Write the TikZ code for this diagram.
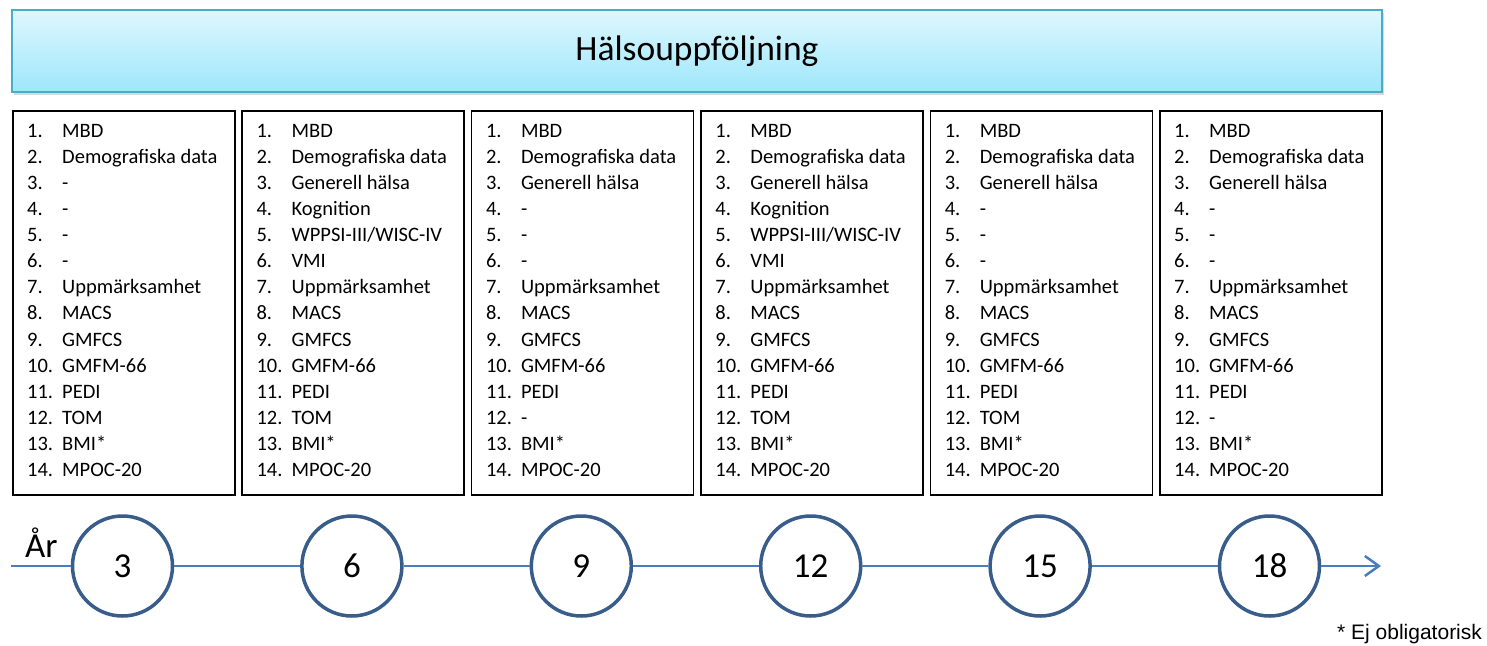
\documentclass[tikz,border=0pt]{standalone}
\usepackage{fontspec}
\setmainfont{Carlito}
\newfontfamily\arialfont{Liberation Sans}
\usetikzlibrary{arrows.meta, shadows, positioning}
\definecolor{headline}{RGB}{75,172,198}
\definecolor{headtop}{RGB}{222,247,254}
\definecolor{headbot}{RGB}{158,231,251}
\definecolor{axisblue}{RGB}{74,126,187}
\definecolor{ringblue}{RGB}{56,93,138}
\def\pitch{229.4}
\def\listA{MBD,Demografiska data,-,-,-,-,Uppmärksamhet,MACS,GMFCS,GMFM-66,PEDI,TOM,BMI*,MPOC-20}
\def\listB{MBD,Demografiska data,Generell hälsa,Kognition,WPPSI-III/WISC-IV,VMI,Uppmärksamhet,MACS,GMFCS,GMFM-66,PEDI,TOM,BMI*,MPOC-20}
\def\listC{MBD,Demografiska data,Generell hälsa,-,-,-,Uppmärksamhet,MACS,GMFCS,GMFM-66,PEDI,-,BMI*,MPOC-20}
\def\listD{MBD,Demografiska data,Generell hälsa,Kognition,WPPSI-III/WISC-IV,VMI,Uppmärksamhet,MACS,GMFCS,GMFM-66,PEDI,TOM,BMI*,MPOC-20}
\def\listE{MBD,Demografiska data,Generell hälsa,-,-,-,Uppmärksamhet,MACS,GMFCS,GMFM-66,PEDI,TOM,BMI*,MPOC-20}
\def\listF{MBD,Demografiska data,Generell hälsa,-,-,-,Uppmärksamhet,MACS,GMFCS,GMFM-66,PEDI,-,BMI*,MPOC-20}
\tikzstyle{header} = [rectangle, draw=headline, line width=2.5pt, top color=headtop, bottom color=headbot,
                      minimum width=1370pt, minimum height=82pt, font=\fontsize{35.5}{40}\selectfont,
                      drop shadow={shadow xshift=2pt, shadow yshift=-3pt, opacity=0.3}]
\tikzstyle{listbox} = [rectangle, draw=black, line width=1.5pt, minimum width=222pt, minimum height=384pt,
                       anchor=north west, inner sep=0pt]
\tikzstyle{entry} = [anchor=base west, inner sep=0pt, font=\fontsize{20.5}{24}\selectfont]
\tikzstyle{year} = [circle, draw=ringblue, line width=3.5pt, fill=white, minimum size=100pt, inner sep=0pt,
                    font=\fontsize{35}{40}\selectfont]
\tikzstyle{timeline} = [draw=axisblue, line width=2.5pt]
\begin{document}
\begin{tikzpicture}[x=1pt, y=-1pt]
  \useasboundingbox (0,0) rectangle (1487,645);

  \node[header] (title) at (697,51) {Hälsouppföljning};

  \foreach \c [count=\i] in {A,B,C,D,E,F}{
    \node[listbox] (box\i) at ({12+\pitch*(\i-1)},110) {};
    \expandafter\let\expandafter\items\csname list\c\endcsname
    \foreach \t [count=\k] in \items {
      \node[entry] (e\i-\k) at ({27+\pitch*(\i-1)},{137.5+26.07*(\k-1)}) {\makebox[35pt][l]{\k.}\t};
    }
  }

  % tidslinje
  \foreach \y [count=\i] in {3,6,9,12,15,18}{
    \node[year] (yr\i) at ({122.5+\pitch*(\i-1)},566) {\y};
  }
  \coordinate (start) at (11,566);
  \coordinate (end) at (1381,566);
  \draw[timeline] (start) -- (yr1);
  \foreach \i [evaluate=\i as \j using int(\i+1)] in {1,...,5}{
    \draw[timeline] (yr\i) -- (yr\j);
  }
  \draw[timeline, -{Straight Barb[length=14pt, width=20pt]}] (yr6) -- (end);

  \node[anchor=base west, inner sep=0pt, font=\fontsize{35}{40}\selectfont] (ar) at (25,557) {År};
  \node[anchor=base west, inner sep=0pt, font=\arialfont\fontsize{21}{24}\selectfont] (note) at (1337,639) {* Ej obligatorisk};
\end{tikzpicture}
\end{document}
